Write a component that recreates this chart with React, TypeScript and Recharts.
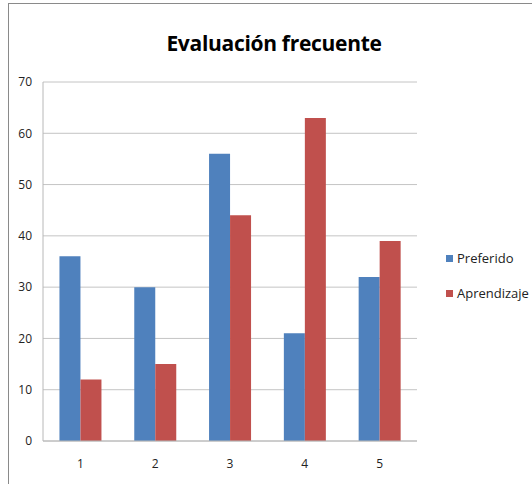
import { Bar, BarChart, CartesianGrid, XAxis, YAxis } from 'recharts'

const CATEGORIES = ['1', '2', '3', '4', '5']
const PREFERIDO = [36, 30, 56, 21, 32]
const APRENDIZAJE = [12, 15, 44, 63, 39]
const Y_TICKS = [0, 10, 20, 30, 40, 50, 60, 70]

const SERIES = [
  { key: 'Preferido', color: '#4F81BD' },
  { key: 'Aprendizaje', color: '#C0504D' },
]

const FONT = '"Open Sans", sans-serif'

const chartData = CATEGORIES.map((c, i) => ({
  name: c,
  Preferido: PREFERIDO[i],
  Aprendizaje: APRENDIZAJE[i],
}))

export default function App() {
  return (
    <div style={{ position: 'absolute', left: 0, top: 0, width: 532, height: 484, background: '#fff', overflow: 'hidden', fontFamily: FONT }}>
      <div style={{ position: 'absolute', left: 8, top: 3, width: 600, height: 600, borderTop: '1px solid #8a8a8a', borderLeft: '1px solid #8a8a8a' }} />
      <div
        style={{
          position: 'absolute',
          left: 0,
          top: 29,
          width: 548,
          textAlign: 'center',
          fontSize: 21,
          fontWeight: 'bold',
          color: '#000',
          letterSpacing: -0.3,
        }}
      >
        Evaluación frecuente
      </div>
      <div style={{ position: 'absolute', left: 0, top: 0 }}>
        <BarChart
          width={532}
          height={484}
          data={chartData}
          margin={{ top: 82, right: 115, left: 0, bottom: 13 }}
          barCategoryGap="22%"
          barGap={0}
        >
          <CartesianGrid vertical={false} stroke="#c4c4c4" />
          <XAxis
            dataKey="name"
            height={30}
            tickLine={false}
            axisLine={{ stroke: '#b8b8b8' }}
            tick={{ fontSize: 12, fill: '#222', fontFamily: FONT }}
            tickMargin={12}
          />
          <YAxis
            width={43}
            domain={[0, 70]}
            ticks={Y_TICKS}
            tickLine={false}
            axisLine={{ stroke: '#b8b8b8' }}
            tick={{ fontSize: 12, fill: '#222', fontFamily: FONT }}
            tickMargin={5}
          />
          {SERIES.map((s) => (
            <Bar key={s.key} dataKey={s.key} fill={s.color} isAnimationActive={false} />
          ))}
        </BarChart>
      </div>
      <div style={{ position: 'absolute', left: 446, top: 248 }}>
        {SERIES.map((s) => (
          <div key={s.key} style={{ display: 'flex', alignItems: 'center', height: 20, marginBottom: 15, fontSize: 13, color: '#222' }}>
            <span style={{ display: 'inline-block', width: 7, height: 7, background: s.color, marginRight: 4 }} />
            {s.key}
          </div>
        ))}
      </div>
    </div>
  )
}
